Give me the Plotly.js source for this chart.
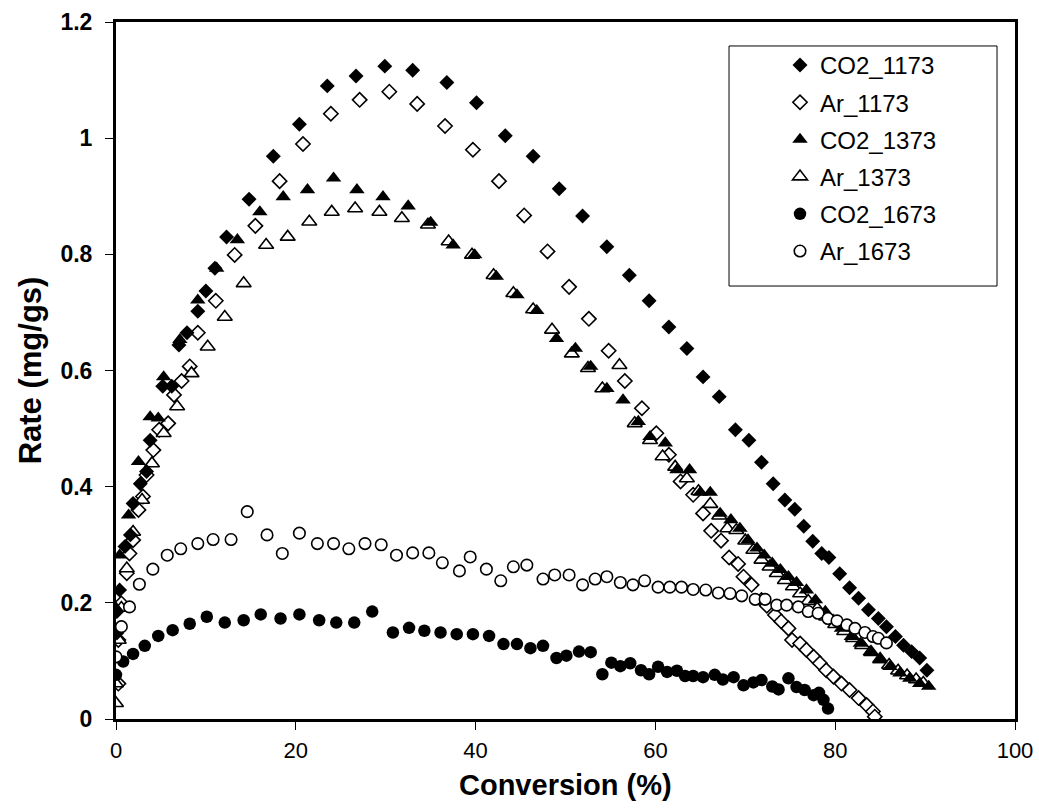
<!DOCTYPE html>
<html>
<head>
<meta charset="utf-8">
<script src="https://cdn.plot.ly/plotly-3.0.1.min.js"></script>
<style>html,body{margin:0;padding:0;background:#fff;}#chart{width:1039px;height:809px;}</style>
</head>
<body>
<div id="chart"></div>
<script>
// ---- Data ----
const seriesNames = ["CO2_1173", "Ar_1173", "CO2_1373", "Ar_1373", "CO2_1673", "Ar_1673"];

const co2_1173_x = [0.1, 0.1, 0.4, 1.0, 1.6, 1.9, 2.7, 3.4, 3.8, 5.2, 6.2, 7.0, 7.9, 9.1, 10.0, 11.0, 12.3, 14.8, 17.5, 20.4, 23.5, 26.7, 29.9, 33.0, 36.8, 40.1, 43.3, 46.4, 49.3, 51.9, 54.6, 57.1, 59.3, 61.5, 63.5, 65.3, 67.1, 68.9, 70.4, 71.8, 73.1, 74.4, 75.5, 76.5, 77.5, 78.5, 79.3, 80.5, 81.6, 82.6, 83.7, 84.8, 85.7, 86.7, 87.6, 88.5, 89.4, 90.2];
const co2_1173_y = [0.148, 0.185, 0.222, 0.297, 0.317, 0.371, 0.405, 0.426, 0.480, 0.573, 0.573, 0.644, 0.665, 0.702, 0.737, 0.776, 0.830, 0.895, 0.969, 1.024, 1.090, 1.107, 1.124, 1.117, 1.096, 1.061, 1.004, 0.969, 0.913, 0.866, 0.813, 0.764, 0.720, 0.675, 0.638, 0.589, 0.555, 0.498, 0.480, 0.442, 0.405, 0.377, 0.361, 0.332, 0.306, 0.285, 0.278, 0.250, 0.226, 0.208, 0.188, 0.173, 0.159, 0.142, 0.127, 0.116, 0.105, 0.084];

const ar_1173_x = [0.26, 0.26, 0.6, 1.2, 1.5, 1.9, 2.5, 3.0, 3.4, 4.15, 4.8, 5.8, 6.45, 7.3, 8.2, 9.1, 11.1, 13.2, 15.5, 18.2, 20.8, 23.9, 27.1, 30.4, 33.5, 36.6, 39.7, 42.6, 45.4, 48.0, 50.4, 52.6, 54.8, 56.6, 58.5, 60.1, 61.5, 62.8, 64.2, 65.3, 66.2, 67.3, 68.2, 69.2, 69.8, 70.7, 71.8, 72.4, 73.3, 74.0, 74.8, 75.2, 76.1, 76.8, 77.6, 78.3, 79.0, 79.8, 80.7, 81.6, 82.6, 83.5, 84.2, 84.4];
const ar_1173_y = [0.061, 0.136, 0.199, 0.251, 0.285, 0.308, 0.360, 0.383, 0.420, 0.463, 0.498, 0.509, 0.558, 0.582, 0.607, 0.665, 0.720, 0.799, 0.849, 0.926, 0.990, 1.042, 1.066, 1.080, 1.059, 1.021, 0.980, 0.926, 0.867, 0.805, 0.744, 0.689, 0.634, 0.582, 0.535, 0.492, 0.455, 0.409, 0.386, 0.354, 0.324, 0.307, 0.278, 0.267, 0.245, 0.231, 0.205, 0.195, 0.179, 0.168, 0.156, 0.136, 0.130, 0.119, 0.107, 0.096, 0.084, 0.073, 0.061, 0.050, 0.036, 0.024, 0.013, 0.004];

const co2_1373_x = [0.0, 0.4, 1.4, 2.5, 3.8, 4.7, 5.3, 7.1, 9.1, 11.2, 13.5, 16.0, 18.6, 21.3, 24.2, 26.8, 29.7, 32.5, 35.0, 37.5, 39.9, 42.3, 44.6, 46.8, 49.0, 51.1, 52.8, 54.6, 56.4, 58.1, 59.4, 61.1, 62.4, 63.8, 65.0, 66.1, 67.2, 68.4, 69.4, 70.3, 71.3, 72.1, 73.0, 73.9, 74.8, 75.7, 76.8, 77.8, 78.9, 79.8, 80.7, 81.8, 82.8, 83.9, 85.0, 86.1, 87.2, 88.3, 89.4, 90.4];
const co2_1373_y = [0.191, 0.282, 0.351, 0.443, 0.520, 0.518, 0.589, 0.653, 0.721, 0.776, 0.825, 0.873, 0.899, 0.911, 0.931, 0.911, 0.899, 0.883, 0.855, 0.816, 0.799, 0.762, 0.730, 0.703, 0.655, 0.638, 0.607, 0.569, 0.549, 0.512, 0.486, 0.475, 0.429, 0.429, 0.390, 0.390, 0.354, 0.343, 0.328, 0.308, 0.294, 0.282, 0.268, 0.257, 0.245, 0.235, 0.222, 0.205, 0.185, 0.170, 0.156, 0.142, 0.130, 0.116, 0.102, 0.090, 0.079, 0.070, 0.061, 0.056];

const ar_1373_x = [0, 0, 0.3, 0.6, 1.2, 1.9, 2.9, 4.0, 5.3, 6.8, 8.4, 10.2, 12.1, 14.2, 16.7, 19.1, 21.5, 24.0, 26.6, 29.3, 31.8, 34.7, 37.0, 39.6, 42.0, 44.2, 46.4, 48.5, 50.7, 52.5, 54.1, 56.0, 57.7, 59.4, 60.8, 62.2, 63.5, 64.8, 66.1, 67.1, 68.0, 69.0, 70.0, 70.9, 71.8, 72.7, 73.5, 74.4, 75.3, 76.1, 77.0, 78.0, 79.0, 80.0, 81.0, 82.0, 83.0, 84.0, 85.0, 86.0, 87.0, 88.0, 89.0, 89.8];
const ar_1373_y = [0.027, 0.061, 0.136, 0.191, 0.259, 0.322, 0.377, 0.440, 0.492, 0.538, 0.595, 0.641, 0.692, 0.750, 0.816, 0.830, 0.856, 0.873, 0.879, 0.873, 0.862, 0.851, 0.822, 0.799, 0.764, 0.733, 0.705, 0.670, 0.629, 0.604, 0.569, 0.609, 0.509, 0.480, 0.452, 0.434, 0.414, 0.392, 0.370, 0.350, 0.328, 0.325, 0.307, 0.291, 0.274, 0.262, 0.251, 0.239, 0.228, 0.216, 0.203, 0.190, 0.176, 0.163, 0.151, 0.139, 0.127, 0.115, 0.103, 0.093, 0.083, 0.075, 0.068, 0.062];

const co2_1673_x = [0, 0.8, 1.9, 3.2, 4.7, 6.3, 8.2, 10.1, 12.1, 14.2, 16.1, 18.3, 20.4, 22.6, 24.5, 26.5, 28.5, 30.8, 32.6, 34.3, 36.1, 37.9, 39.7, 41.5, 43.1, 44.6, 46.1, 47.5, 49.0, 50.1, 51.5, 52.8, 54.1, 55.1, 56.1, 57.2, 58.4, 59.3, 60.3, 61.3, 62.4, 63.3, 64.2, 65.3, 66.6, 67.5, 68.7, 69.8, 70.9, 71.8, 73.0, 73.7, 74.8, 75.7, 76.6, 77.6, 78.2, 78.7, 79.2];
const co2_1673_y = [0.076, 0.099, 0.112, 0.126, 0.143, 0.153, 0.164, 0.176, 0.166, 0.170, 0.180, 0.173, 0.180, 0.170, 0.166, 0.166, 0.185, 0.149, 0.157, 0.152, 0.149, 0.146, 0.146, 0.143, 0.129, 0.129, 0.122, 0.126, 0.105, 0.109, 0.116, 0.115, 0.077, 0.097, 0.091, 0.096, 0.084, 0.077, 0.090, 0.081, 0.083, 0.074, 0.074, 0.072, 0.076, 0.068, 0.072, 0.058, 0.063, 0.067, 0.056, 0.051, 0.070, 0.055, 0.050, 0.041, 0.045, 0.033, 0.018];

const ar_1673_x = [0, 0.6, 1.5, 2.6, 4.1, 5.7, 7.2, 9.1, 10.8, 12.8, 14.6, 16.8, 18.5, 20.4, 22.4, 24.2, 25.9, 27.7, 29.5, 31.2, 33.0, 34.8, 36.3, 38.2, 39.4, 41.2, 42.8, 44.2, 45.7, 47.5, 48.8, 50.4, 51.9, 53.3, 54.6, 56.1, 57.5, 58.8, 60.3, 61.6, 62.9, 64.2, 65.6, 67.0, 68.3, 69.6, 71.1, 72.2, 73.5, 74.6, 75.9, 77.0, 78.1, 79.2, 80.2, 81.3, 82.2, 83.3, 84.2, 84.8, 85.7];
const ar_1673_y = [0.107, 0.159, 0.193, 0.232, 0.258, 0.282, 0.293, 0.302, 0.309, 0.309, 0.357, 0.317, 0.285, 0.320, 0.302, 0.302, 0.293, 0.302, 0.300, 0.282, 0.286, 0.286, 0.269, 0.255, 0.279, 0.258, 0.238, 0.262, 0.265, 0.241, 0.248, 0.248, 0.231, 0.241, 0.245, 0.235, 0.231, 0.238, 0.227, 0.227, 0.227, 0.223, 0.222, 0.217, 0.216, 0.212, 0.206, 0.206, 0.196, 0.196, 0.193, 0.185, 0.182, 0.173, 0.169, 0.162, 0.156, 0.149, 0.142, 0.139, 0.131];

const xTickVals = [0, 20, 40, 60, 80, 100];
const yTickVals = [0, 0.2, 0.4, 0.6, 0.8, 1, 1.2];
const xTitle = "Conversion (%)";
const yTitle = "Rate (mg/gs)";

// ---- Styles ----
const FONT = "Arial, 'Liberation Sans', sans-serif";
function tr(name, xs, ys, symbol, size, filled, rank) {
  return {
    type: "scatter", mode: "markers", name: name, x: xs, y: ys,
    legendrank: rank, legendgroup: name,
    marker: {
      symbol: symbol, size: size,
      color: filled ? "#000" : "#fff",
      line: {color: "#000", width: filled ? 0 : 1.6}
    },
    hoverinfo: "x+y+name"
  };
}

const data = [
  tr(seriesNames[1], ar_1173_x, ar_1173_y, "diamond", 11, false, 2),
  tr(seriesNames[3], ar_1373_x, ar_1373_y, "triangle-up", 13, false, 4),
  tr(seriesNames[0], co2_1173_x, co2_1173_y, "diamond", 11.5, true, 1),
  tr(seriesNames[2], co2_1373_x, co2_1373_y, "triangle-up", 13.5, true, 3),
  tr(seriesNames[4], co2_1673_x, co2_1673_y, "circle", 12.5, true, 5),
  tr(seriesNames[5], ar_1673_x, ar_1673_y, "circle", 11.5, false, 6)
];

const layout = {
  width: 1039, height: 809,
  paper_bgcolor: "#fff", plot_bgcolor: "#fff",
  font: {family: FONT, color: "#000"},
  margin: {l: 116, r: 24, t: 22, b: 90, pad: 0},
  showlegend: true,
  legend: {
    x: 0.7386, y: 0.970, xanchor: "left", yanchor: "top",
    bgcolor: "rgba(0,0,0,0)", borderwidth: 0,
    font: {family: FONT, size: 24, color: "#000"},
    tracegroupgap: 3, traceorder: "grouped"
  },
  shapes: [{
    type: "rect", xref: "paper", yref: "paper",
    x0: 0.6819, x1: 0.98, y0: 0.6212, y1: 0.9656,
    line: {color: "#000", width: 1}, fillcolor: "rgba(0,0,0,0)", layer: "above"
  }],
  annotations: [{
    text: "<b>" + xTitle + "</b>", xref: "paper", yref: "paper",
    x: 0.5, y: -0.0947, xanchor: "center", yanchor: "middle", showarrow: false,
    font: {family: FONT, size: 29, color: "#000"}
  }],
  xaxis: {
    range: [0, 100], tickvals: xTickVals, ticktext: xTickVals.map(String),
    showgrid: false, zeroline: false,
    showline: true, linecolor: "#000", linewidth: 3, mirror: true,
    ticks: "outside", ticklen: 8, tickwidth: 1, tickcolor: "#000",
    tickfont: {family: FONT, size: 22, color: "#000"},
    ticklabelstandoff: 2
  },
  yaxis: {
    range: [0, 1.2], tickvals: yTickVals, ticktext: yTickVals.map(v => "<b>" + String(v) + "</b>"),
    showgrid: false, zeroline: false,
    showline: true, linecolor: "#000", linewidth: 3, mirror: true,
    ticks: "outside", ticklen: 8, tickwidth: 1, tickcolor: "#000",
    tickfont: {family: FONT, size: 23, color: "#000"},
    ticklabelstandoff: 8,
    title: {text: "<b>" + yTitle + "</b>", font: {family: FONT, size: 31, color: "#000"}, standoff: 10}
  }
};

Plotly.newPlot("chart", data, layout, {displayModeBar: false, staticPlot: true});
</script>
</body>
</html>
